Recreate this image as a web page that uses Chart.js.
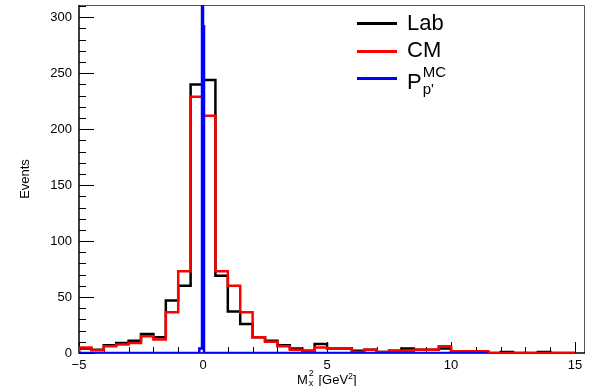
<!DOCTYPE html>
<html>
<head>
<meta charset="utf-8">
<script src="https://cdn.jsdelivr.net/npm/chart.js@4/dist/chart.umd.min.js"></script>
<style>
  html, body { margin: 0; padding: 0; background: #fff; }
  #wrap { position: relative; width: 590px; height: 386px; font-family: 'Liberation Sans', Arial, sans-serif; color: #000; }
  #wrap canvas { position: absolute; left: 0; top: 0; }
  .leg-line { position: absolute; left: 357px; width: 40px; height: 3px; }
  .leg-text { position: absolute; left: 407px; font-size: 22px; line-height: 22px; white-space: nowrap; }
  .stack { position: relative; display: inline-block; }
  .stack span { position: absolute; left: 1px; white-space: nowrap; }
  #xtitle { position: absolute; left: 297px; top: 371px; font-size: 13px; line-height: 13px; white-space: nowrap; }
  #xtitle sup { font-size: 9px; vertical-align: 5px; line-height: 0; }
</style>
</head>
<body>
<div id="wrap">
  <canvas id="chart"></canvas>

  <div class="leg-line" style="top:22px;background:#000"></div>
  <div class="leg-text" style="top:12px">Lab</div>
  <div class="leg-line" style="top:50px;background:#f00"></div>
  <div class="leg-text" style="top:39px">CM</div>
  <div class="leg-line" style="top:77px;background:#00f"></div>
  <div class="leg-text" style="top:67px">P<span class="stack" style="width:24px;height:22px"><span style="font-size:15px;top:-6px">MC</span><span style="font-size:15px;top:11px">p'</span></span></div>

  <div id="xtitle">M<span class="stack" style="width:7px;height:13px"><span style="font-size:9px;top:-4px">2</span><span style="font-size:9px;top:6px">x</span></span> [GeV<sup>2</sup>]</div>
</div>

<script>
// histogram bin edges (0.5 wide, from -5 to 15)
const binEdges = [-5, -4.5, -4, -3.5, -3, -2.5, -2, -1.5, -1, -0.5,
                  0, 0.5, 1, 1.5, 2, 2.5, 3, 3.5, 4, 4.5,
                  5, 5.5, 6, 6.5, 7, 7.5, 8, 8.5, 9, 9.5,
                  10, 10.5, 11, 11.5, 12, 12.5, 13, 13.5, 14, 14.5, 15];

// Lab frame
const labCounts = [4, 3, 7, 9, 11, 17, 14, 47, 60, 240,
                   244, 69, 37, 26, 14, 11, 7, 4, 2, 8,
                   4, 4, 2, 3, 1, 2, 4, 3, 3, 4,
                   1, 1, 1, 0, 1, 0, 0, 1, 0, 0];

// CM frame
const cmCounts = [5, 2.5, 6, 7.5, 9, 15, 12, 36.5, 73, 229,
                  212, 73, 60, 36.5, 14, 10, 6, 3, 2, 5,
                  4, 4, 1, 3, 1, 2, 2, 3, 3, 6,
                  1.5, 1.5, 1.5, 0, 0, 0, 0, 0, 0, 0];

// MC truth, narrow bins round zero
const mcEdges = [-5, -0.15, -0.04, 0, 0.04, 11.5];
const mcCounts = [0, 4, 3000, 292, 0];

const xTicks = [-5, 0, 5, 10, 15];
const yTicks = [0, 50, 100, 150, 200, 250, 300];

const FONT = "'Liberation Sans', Arial, sans-serif";

function histPoints(edges, counts) {
    const pts = [{ x: edges[0], y: 0 }];
    counts.forEach((c, i) => pts.push({ x: edges[i], y: c }));
    pts.push({ x: edges[edges.length - 1], y: 0 });
    return pts;
}

// ROOT style axes: ticks pointing into the frame
const rootAxes = {
    id: 'rootAxes',
    beforeDatasetsDraw(chart) {
        const { ctx, chartArea: a, scales: { x, y } } = chart;
        ctx.save();
        ctx.strokeStyle = '#000';
        ctx.lineWidth = 1;
        ctx.beginPath();
        for (let v = 0; v <= y.max; v += 10) {
            const py = Math.round(y.getPixelForValue(v)) + 0.5;
            const len = v % 50 === 0 ? 15 : 7;
            ctx.moveTo(a.left, py);
            ctx.lineTo(a.left + len, py);
        }
        for (let v = -5; v <= x.max; v += 1) {
            const px = Math.round(x.getPixelForValue(v)) + 0.5;
            const len = v % 5 === 0 ? 11 : 6;
            ctx.moveTo(px, a.bottom);
            ctx.lineTo(px, a.bottom - len);
        }
        ctx.stroke();

        ctx.strokeStyle = '#555';
        ctx.beginPath();
        ctx.moveTo(a.left, a.top + 0.5);
        ctx.lineTo(a.right - 0.5, a.top + 0.5);
        ctx.lineTo(a.right - 0.5, a.bottom);
        ctx.stroke();

        ctx.strokeStyle = '#000';
        ctx.lineWidth = 1.5;
        ctx.beginPath();
        ctx.moveTo(a.left, a.top);
        ctx.lineTo(a.left, a.bottom);
        ctx.lineTo(a.right, a.bottom);
        ctx.stroke();
        ctx.restore();
    }
};

const minus = v => String(v).replace('-', '\u2212');

new Chart(document.getElementById('chart'), {
    type: 'line',
    data: {
        datasets: [
            { label: 'MC', data: histPoints(mcEdges, mcCounts), borderColor: '#00f', order: 0 },
            { label: 'CM', data: histPoints(binEdges, cmCounts), borderColor: '#f00', order: 1 },
            { label: 'Lab', data: histPoints(binEdges, labCounts), borderColor: '#000', order: 2 }
        ]
    },
    options: {
        responsive: true,
        maintainAspectRatio: false,
        animation: false,
        events: [],
        datasets: {
            line: { stepped: true, borderWidth: 2.5, pointRadius: 0, tension: 0, fill: false, borderJoinStyle: 'miter' }
        },
        layout: { padding: { top: 5, right: 5, left: 0, bottom: 0 } },
        plugins: { legend: { display: false }, tooltip: { enabled: false } },
        scales: {
            x: {
                type: 'linear',
                min: -5,
                max: 15.4,
                grid: { display: false, drawTicks: false },
                border: { display: false },
                ticks: { stepSize: 5, padding: 5, color: '#000', maxRotation: 0, font: { family: FONT, size: 13 }, callback: minus },
                afterBuildTicks: s => { s.ticks = xTicks.map(v => ({ value: v })); },
                afterFit: s => { s.height = 33; s.paddingLeft = 0; s.paddingRight = 0; }
            },
            y: {
                type: 'linear',
                min: 0,
                max: 311,
                grid: { display: false, drawTicks: false },
                border: { display: false },
                ticks: { stepSize: 50, padding: 7, color: '#000', font: { family: FONT, size: 13 } },
                afterBuildTicks: s => { s.ticks = yTicks.map(v => ({ value: v })); },
                afterFit: s => { s.width = 79; s.paddingTop = 0; s.paddingBottom = 0; },
                title: { display: true, text: 'Events', color: '#000', font: { family: FONT, size: 13 }, padding: { top: 18, bottom: 0 } }
            }
        }
    },
    plugins: [rootAxes]
});
</script>
</body>
</html>
